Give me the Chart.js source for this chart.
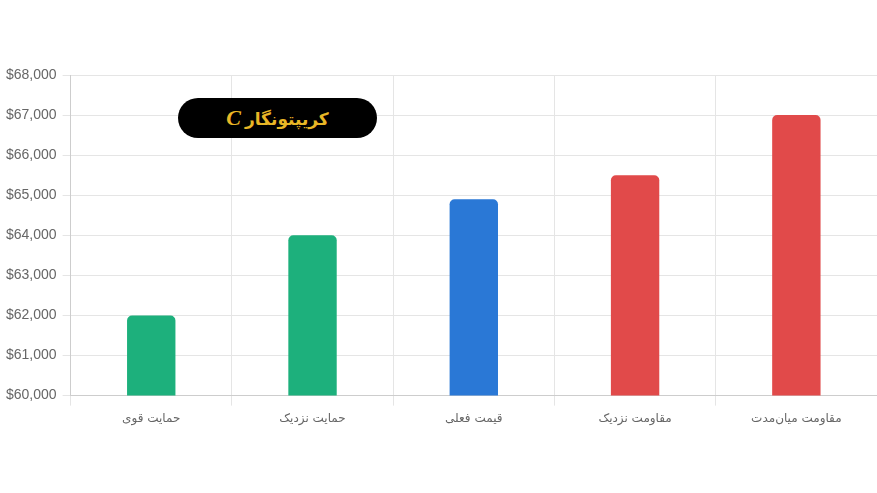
<!DOCTYPE html>
<html>
<head>
<meta charset="utf-8">
<script src="https://cdn.jsdelivr.net/npm/chart.js@4.4.0/dist/chart.umd.min.js"></script>
<style>
  html, body { margin: 0; padding: 0; background: #fff; }
  #wrap { position: relative; width: 877px; height: 493px; }
  #badge {
    position: absolute; left: 178px; top: 98px; width: 199px; height: 40px;
    background: #000; border-radius: 20px;
    display: flex; align-items: center; justify-content: center; gap: 4px;
    direction: rtl;
  }
  #badge .name { color: #e9b626; font: bold 17px "Noto Sans", "DejaVu Sans", sans-serif; }
  #badge .logo { color: #e9b626; font: italic bold 22px "Liberation Serif", serif; direction: ltr; }
</style>
</head>
<body>
<div id="wrap">
  <canvas id="chart" width="877" height="493"></canvas>
  <div id="badge"><span class="name">کریپتونگار</span><span class="logo">C</span></div>
</div>
<script>
const labels = ['حمایت قوی', 'حمایت نزدیک', 'قیمت فعلی', 'مقاومت نزدیک', 'مقاومت میان‌مدت'];
const prices = [62000, 64000, 64900, 65500, 67000];
const barColors = ['#1db07c', '#1db07c', '#2a78d6', '#e14a4a', '#e14a4a'];
const yMin = 60000;
const yMax = 68000;
const yStep = 1000;

function createChart(ctx, labels, values, colors) {
    const data = {
        labels: labels,
        datasets: [{
            data: values,
            backgroundColor: colors,
            borderRadius: 5,
            borderSkipped: 'bottom',
            barPercentage: 0.3,
            categoryPercentage: 1
        }]
    };
    const cfg = {
        type: 'bar',
        data: data,
        options: {
            responsive: false,
            animation: false,
            layout: { padding: { top: 75, bottom: 61, left: 0, right: 0 } },
            plugins: { legend: { display: false }, tooltip: { enabled: false } },
            scales: {
                x: {
                    grid: { color: '#e5e5e5', tickLength: 10 },
                    ticks: { color: '#666', font: { size: 12, family: 'DejaVu Sans' }, padding: 6 }
                },
                y: {
                    min: yMin,
                    max: yMax,
                    grid: { color: '#e5e5e5', tickLength: 8 },
                    ticks: {
                        stepSize: yStep,
                        padding: 6,
                        color: '#666',
                        font: { size: 14, family: 'Liberation Sans' },
                        callback: v => '$' + v.toLocaleString('en-US')
                    }
                }
            }
        }
    };
    return new Chart(ctx, cfg);
}

createChart(document.getElementById('chart'), labels, prices, barColors);
</script>
</body>
</html>
